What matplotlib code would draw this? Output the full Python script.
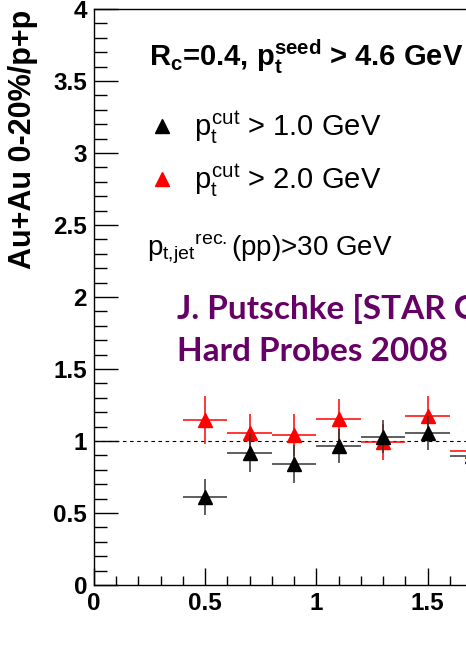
import numpy as np
import matplotlib
matplotlib.use("Agg")
import matplotlib.pyplot as plt
from matplotlib.lines import Line2D
from matplotlib.ticker import MultipleLocator

plt.rcParams["font.family"] = ["Liberation Sans", "DejaVu Sans"]
plt.rcParams["mathtext.fontset"] = "custom"
plt.rcParams["mathtext.rm"] = "Liberation Sans"
plt.rcParams["mathtext.it"] = "Liberation Sans"
plt.rcParams["mathtext.bf"] = "Liberation Sans:bold"

# jet pt bins (centres), half bin width 0.1
bin_centres = [0.5, 0.7, 0.9, 1.1, 1.3, 1.5, 1.7]
bin_half = 0.1

# pt cut > 1.0 GeV
ratio_cut1 = [0.61, 0.92, 0.84, 0.965, 1.03, 1.055, 0.895]
err_cut1 = [0.125, 0.135, 0.13, 0.12, 0.115, 0.12, 0.12]

# pt cut > 2.0 GeV
ratio_cut2 = [1.145, 1.055, 1.04, 1.15, 0.995, 1.175, 0.93]
err_cut2 = [0.165, 0.13, 0.145, 0.145, 0.125, 0.14, 0.14]

W, H = 466, 654
fig = plt.figure(figsize=(W / 100, H / 100), dpi=100)

x0, y0, ytop = 94, 585, 9
px_per_unit = 222.4
xmax = 2.0
ax = fig.add_axes([x0 / W, 1 - y0 / H, xmax * px_per_unit / W, (y0 - ytop) / H])

ax.errorbar(bin_centres, ratio_cut2, xerr=bin_half, yerr=err_cut2,
            fmt="^", color="red", ms=9.5, elinewidth=1.1, capsize=0,
            clip_on=False, zorder=3)
ax.errorbar(bin_centres, ratio_cut1, xerr=bin_half, yerr=err_cut1,
            fmt="^", color="black", ecolor="#333333", ms=9.5,
            elinewidth=1.1, capsize=0, clip_on=False, zorder=4)

ax.axhline(1.0, color="black", lw=0.8, ls=(0, (3.2, 3.2)), zorder=2)

ax.set_xlim(0, xmax)
ax.set_ylim(0, 4)
ax.xaxis.set_major_locator(MultipleLocator(0.5))
ax.xaxis.set_minor_locator(MultipleLocator(0.1))
ax.yaxis.set_major_locator(MultipleLocator(0.5))
ax.yaxis.set_minor_locator(MultipleLocator(0.1))
ax.xaxis.set_major_formatter(lambda v, p: f"{v:g}")
ax.yaxis.set_major_formatter(lambda v, p: f"{v:g}")
ax.tick_params(axis="both", which="both", direction="in", width=1.0,
               top=False, right=False, labelsize=17.5)
ax.tick_params(axis="y", which="major", length=17, pad=5)
ax.tick_params(axis="y", which="minor", length=9.5)
ax.tick_params(axis="x", which="major", length=12, pad=5)
ax.tick_params(axis="x", which="minor", length=6.5)
for lab in ax.get_xticklabels() + ax.get_yticklabels():
    lab.set_fontweight("bold")
for side in ["left", "bottom", "top"]:
    ax.spines[side].set_linewidth(1.0)
ax.spines["right"].set_visible(False)

fig.text(23 / W, 1 - 10 / H, "Au+Au 0-20%/p+p", rotation=90,
         ha="center", va="top", fontsize=22, fontweight="bold")

fig.text(149 / W, 1 - 66 / H,
         r"$\mathbf{R_c}$=0.4, $\mathbf{p_t^{seed}}$ > 4.6 GeV",
         fontsize=21, fontweight="bold", ha="left", va="baseline")

handles = [Line2D([], [], marker="^", color="black", ls="none", ms=10),
           Line2D([], [], marker="^", color="red", ls="none", ms=10)]
labels = [r"$p_t^{cut}$ > 1.0 GeV", r"$p_t^{cut}$ > 2.0 GeV"]
ax.legend(handles, labels, loc="upper left",
          bbox_to_anchor=(150 / W, 1 - 109 / H), bbox_transform=fig.transFigure,
          frameon=False, fontsize=21, handlelength=0.8, handletextpad=0.7,
          labelspacing=0.55, borderaxespad=0, borderpad=0)

fig.text(147 / W, 1 - 256 / H, r"$p_{t{,}jet}{}^{rec.}$(pp)>30 GeV",
         fontsize=20, ha="left", va="baseline")

purple = "#660066"
fig.text(177 / W, 1 - 319 / H, "J. Putschke [STAR Collaboration]",
         fontsize=24, fontweight="bold", family="Lato", color=purple,
         ha="left", va="baseline")
fig.text(177 / W, 1 - 361 / H, "Hard Probes 2008",
         fontsize=24, fontweight="bold", family="Lato", color=purple,
         ha="left", va="baseline")

fig.savefig("out.png", dpi=100)
